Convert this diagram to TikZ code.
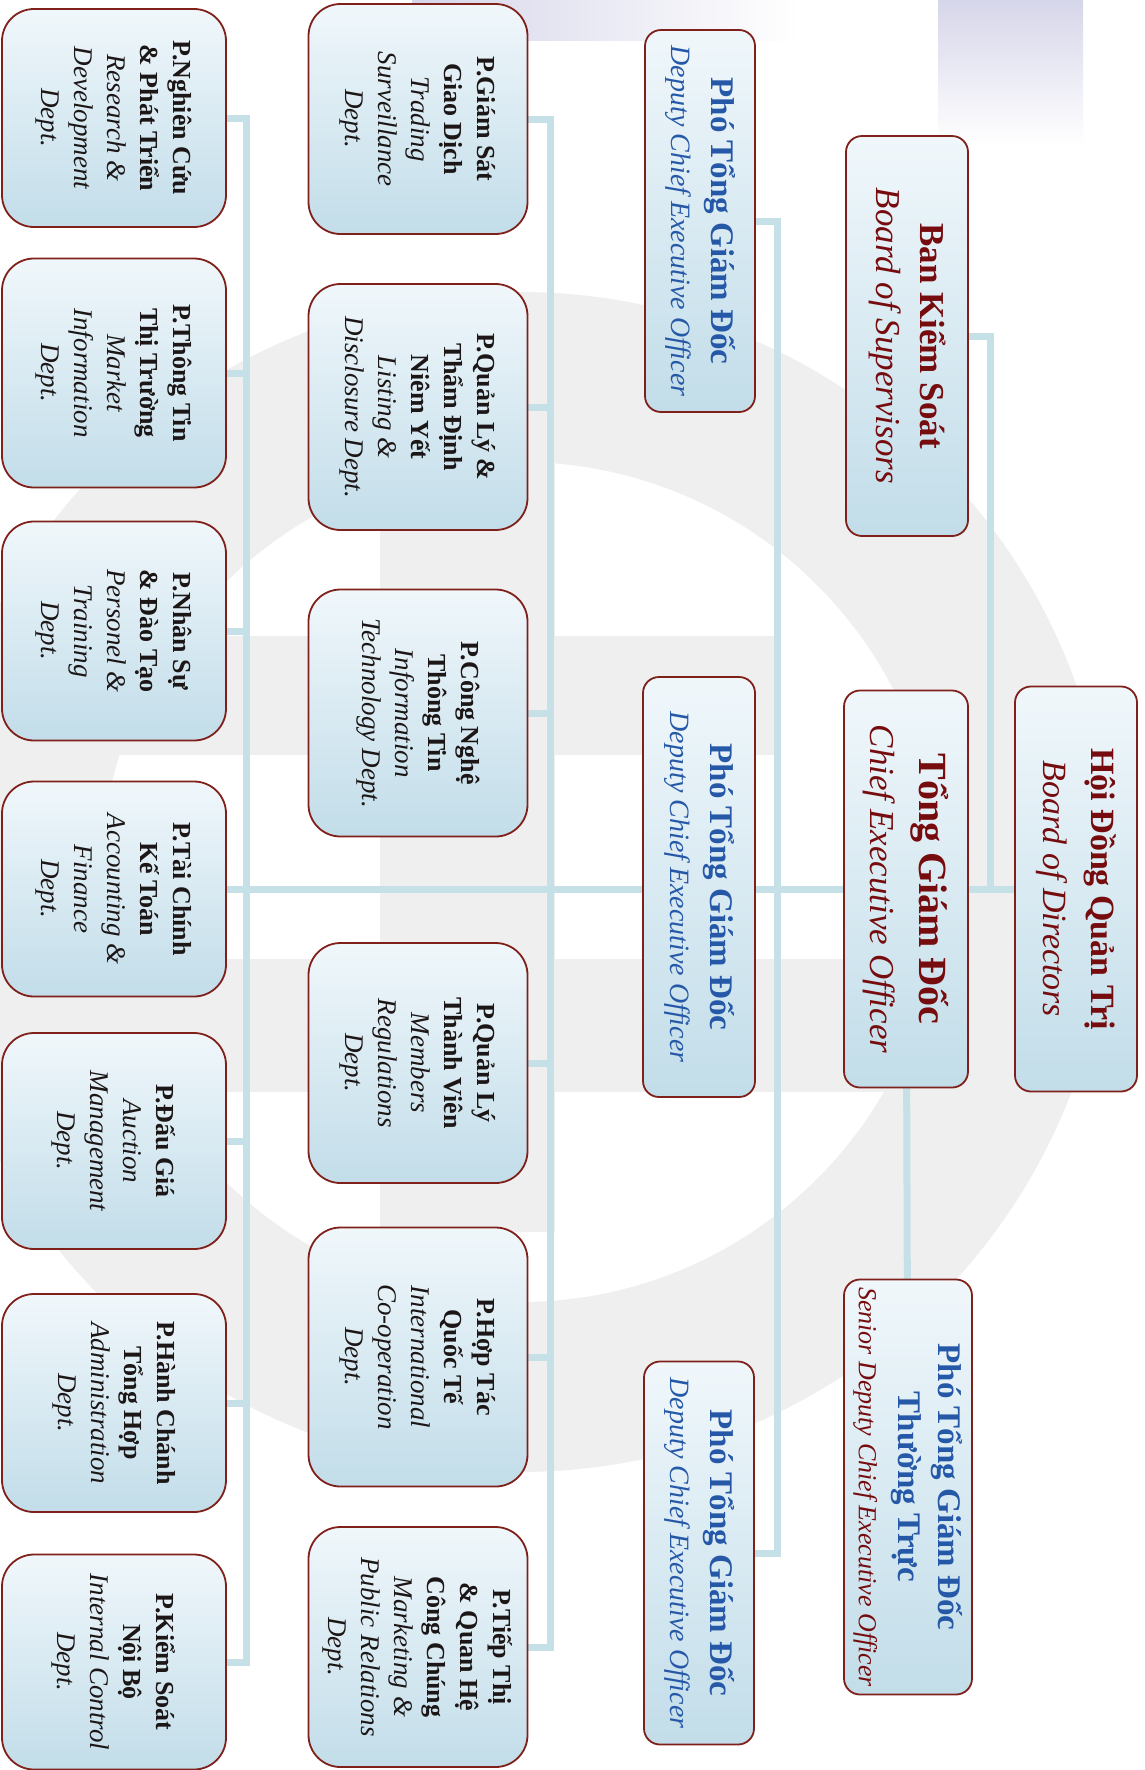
\documentclass[tikz,border=0pt]{standalone}
\usepackage{fontspec}
\setmainfont{Liberation Serif}
\usepackage{tikz}
\usetikzlibrary{backgrounds}

\definecolor{boxred}{RGB}{128,32,26}
\definecolor{titlered}{RGB}{118,12,14}
\definecolor{titleblue}{RGB}{38,88,168}
\definecolor{linkblue}{RGB}{198,224,232}
\definecolor{boxdark}{RGB}{194,221,233}
\definecolor{boxlight}{RGB}{240,247,251}
\definecolor{deptink}{RGB}{28,22,22}
\definecolor{lav}{RGB}{214,214,234}
\definecolor{logogrey}{RGB}{239,239,239}

\newcommand{\vnl}[1]{{\bfseries #1}}
\newcommand{\enl}[1]{{\fontsize{27}{27}\selectfont\itshape #1}}
\newcommand{\hvn}[2]{{\fontsize{#1}{#1}\selectfont\bfseries #2}}
\newcommand{\hen}[2]{{\fontsize{#1}{#1}\selectfont\itshape #2}}

\tikzset{
  box/.style={draw=boxred, line width=1.8pt, rotate=-90, inner sep=0pt,
    align=center, top color=boxlight, bottom color=boxdark},
  head/.style={box, rounded corners=16pt},
  dept/.style={box, rounded corners=32pt, text=deptink,
    font=\fontsize{26}{33}\selectfont},
  deptD/.style={dept, minimum height=219pt},
  deptE/.style={dept, minimum height=224pt},
  link/.style={linkblue, line width=7pt, line cap=rect},
}

\begin{document}
\begin{tikzpicture}[x=1pt, y=-1pt]
  \useasboundingbox (0,0) rectangle (1144,1770);
  % top level %
  \node[head, text=titlered, font=\fontsize{34}{48}\selectfont,
    minimum width=405pt, minimum height=122pt] (hdqt) at (1076,889)
    {\hvn{34}{Hội Đồng Quản Trị}\\\hen{34}{Board of Directors}};
  \node[head, text=titlered, font=\fontsize{35}{44}\selectfont,
    minimum width=400pt, minimum height=122pt] (bks) at (907,336)
    {\hvn{35}{Ban Kiểm Soát}\\\hen{35}{Board of Supervisors}};
  \node[head, text=titlered, font=\fontsize{40}{49}\selectfont,
    minimum width=397pt, minimum height=124pt] (tgd) at (906,889)
    {\hvn{40}{Tổng Giám Đốc}\\\hen{35}{Chief Executive Officer}};
  \node[head, text=titleblue, font=\fontsize{33}{40}\selectfont,
    minimum width=415pt, minimum height=128pt] (ptt) at (908,1487)
    {\hvn{33}{Phó Tổng Giám Đốc}\\\hvn{33}{Thường Trực}\\\textcolor{titlered}{\hen{26}{Senior Deputy Chief Executive Officer}}};
  \node[head, text=titleblue, font=\fontsize{33}{40}\selectfont,
    minimum width=382pt, minimum height=110pt] (pho1) at (700,221)
    {\hvn{33}{Phó Tổng Giám Đốc}\\\hen{28}{Deputy Chief Executive Officer}};
  \node[head, text=titleblue, font=\fontsize{33}{40}\selectfont,
    minimum width=420pt, minimum height=112pt] (pho2) at (699,887)
    {\hvn{33}{Phó Tổng Giám Đốc}\\\hen{28}{Deputy Chief Executive Officer}};
  \node[head, text=titleblue, font=\fontsize{33}{40}\selectfont,
    minimum width=383pt, minimum height=110pt] (pho3) at (699,1553)
    {\hvn{33}{Phó Tổng Giám Đốc}\\\hen{28}{Deputy Chief Executive Officer}};
  % departments, inner row %
  \node[deptD, minimum width=230pt] (gsgd) at (418,119)
    {\vnl{P.Giám Sát}\\\vnl{Giao Dịch}\\\enl{Trading}\\\enl{Surveillance}\\\enl{Dept.}};
  \node[deptD, minimum width=246pt] (qlny) at (418,407)
    {\vnl{P.Quản Lý \&}\\\vnl{Thẩm Định}\\\vnl{Niêm Yết}\\\enl{Listing \&}\\\enl{Disclosure Dept.}};
  \node[deptD, minimum width=247pt] (cntt) at (418,713)
    {\vnl{P.Công Nghệ}\\\vnl{Thông Tin}\\\enl{Information}\\\enl{Technology Dept.}};
  \node[deptD, minimum width=240pt] (qltv) at (418,1063)
    {\vnl{P.Quản Lý}\\\vnl{Thành Viên}\\\enl{Members}\\\enl{Regulations}\\\enl{Dept.}};
  \node[deptD, minimum width=259pt] (htqt) at (418,1357)
    {\vnl{P.Hợp Tác}\\\vnl{Quốc Tế}\\\enl{International}\\\enl{Co-operation}\\\enl{Dept.}};
  \node[deptD, minimum width=240pt] (ttqh) at (418,1647)
    {\vnl{P.Tiếp Thị}\\\vnl{\& Quan Hệ}\\\vnl{Công Chúng}\\\enl{Marketing \&}\\\enl{Public Relations}\\\enl{Dept.}};
  % departments, outer row %
  \node[deptE, minimum width=218pt] (ncpt) at (114,118)
    {\vnl{P.Nghiên Cứu}\\\vnl{\& Phát Triển}\\\enl{Research \&}\\\enl{Development}\\\enl{Dept.}};
  \node[deptE, minimum width=229pt] (tttt) at (114,373)
    {\vnl{P.Thông Tin}\\\vnl{Thị Trường}\\\enl{Market}\\\enl{Information}\\\enl{Dept.}};
  \node[deptE, minimum width=219pt] (nsdt) at (114,631)
    {\vnl{P.Nhân Sự}\\\vnl{\& Đào Tạo}\\\enl{Personel \&}\\\enl{Training}\\\enl{Dept.}};
  \node[deptE, minimum width=215pt] (tckt) at (114,889)
    {\vnl{P.Tài Chính}\\\vnl{Kế Toán}\\\enl{Accounting \&}\\\enl{Finance}\\\enl{Dept.}};
  \node[deptE, minimum width=216pt] (dgia) at (114,1141)
    {\vnl{P.Đấu Giá}\\\enl{Auction}\\\enl{Management}\\\enl{Dept.}};
  \node[deptE, minimum width=218pt] (hcth) at (114,1403)
    {\vnl{P.Hành Chánh}\\\vnl{Tổng Hợp}\\\enl{Administration}\\\enl{Dept.}};
  \node[deptE, minimum width=215pt] (ksnb) at (114,1662)
    {\vnl{P.Kiểm Soát}\\\vnl{Nội Bộ}\\\enl{Internal Control}\\\enl{Dept.}};
  % bus lines %
  \coordinate (busE) at (246,0);
  \coordinate (busD) at (550,0);
  \coordinate (busC) at (777,0);
  \coordinate (busB) at (990,0);
  \begin{scope}[on background layer]
    % watermark %
    \fill[logogrey, even odd rule] (520,882) circle[radius=590] (520,882) circle[radius=420];
    \fill[logogrey] (380,453) rectangle (555,1232);
    \fill[logogrey] (0,636) rectangle (781,755);
    \fill[logogrey] (0,959) rectangle (1020,1092);
    \shade[left color=lav, right color=white] (412,0) rectangle (800,40);
    \shade[top color=lav, bottom color=white] (938,0) rectangle (1083,146);
    % edges %
    \draw[link] (tckt.center) -- (hdqt.center);
    \foreach \d in {ncpt,tttt,nsdt,dgia,hcth,ksnb}
      \draw[link] (\d.center) -- (\d.center -| busE);
    \draw[link] (ncpt.center -| busE) -- (ksnb.center -| busE);
    \foreach \d in {gsgd,qlny,cntt,qltv,htqt,ttqh}
      \draw[link] (\d.center) -- (\d.center -| busD);
    \draw[link] (gsgd.center -| busD) -- (ttqh.center -| busD);
    \draw[link] (pho1.center) -| (busC |- pho3.center) -- (pho3.center);
    \draw[link] (bks.center) -| (busB |- hdqt.center);
    \draw[link] (tgd.center) -- (ptt.center);
  \end{scope}
\end{tikzpicture}
\end{document}
